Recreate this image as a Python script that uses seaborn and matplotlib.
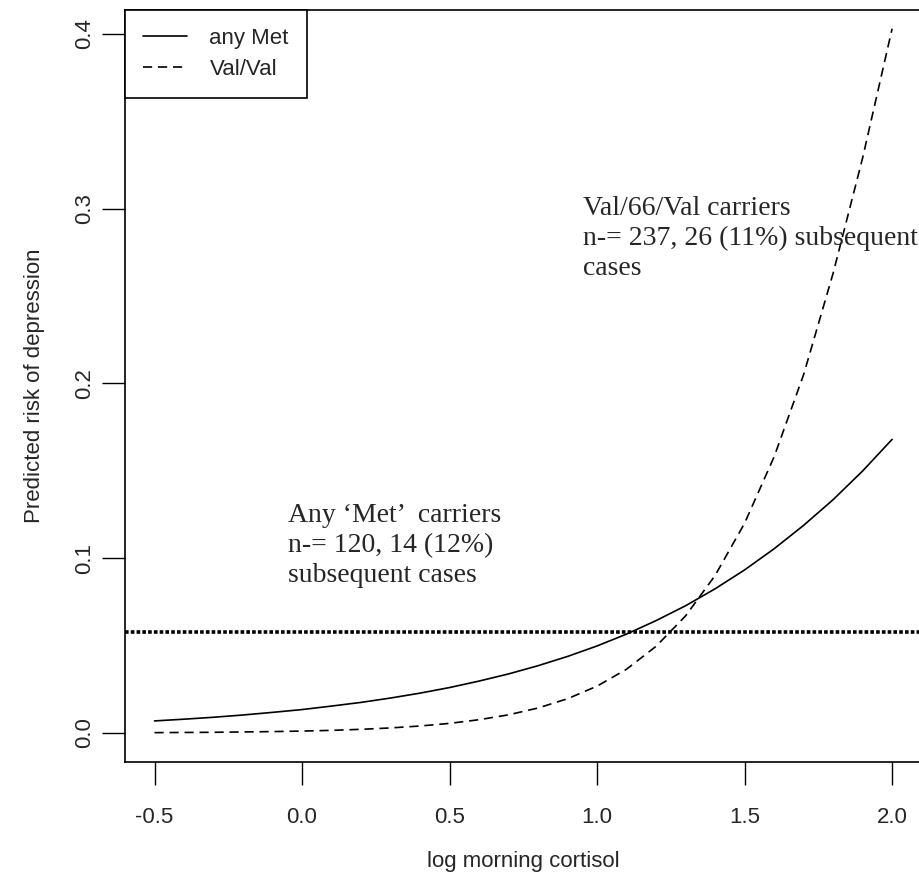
import numpy as np
import pandas as pd
import matplotlib
matplotlib.use("Agg")
import matplotlib.pyplot as plt
import seaborn as sns
from matplotlib.lines import Line2D

# ---- data ----
cortisol = [-0.5, -0.4, -0.3, -0.2, -0.1, 0.0, 0.1, 0.2, 0.3, 0.4, 0.5, 0.6, 0.7,
            0.8, 0.9, 1.0, 1.1, 1.2, 1.3, 1.4, 1.5, 1.6, 1.7, 1.8, 1.9, 2.0]
risk_any_met = [0.0069, 0.0079, 0.0090, 0.0103, 0.0118, 0.0134, 0.0154, 0.0175,
                0.0200, 0.0228, 0.0260, 0.0297, 0.0338, 0.0385, 0.0438, 0.0498,
                0.0566, 0.0643, 0.0728, 0.0825, 0.0933, 0.1054, 0.1188, 0.1335,
                0.1499, 0.1680]
risk_val_val = [0.0002, 0.0003, 0.0004, 0.0006, 0.0008, 0.0011, 0.0015, 0.0021,
                0.0029, 0.0040, 0.0055, 0.0076, 0.0104, 0.0143, 0.0196, 0.0268,
                0.0365, 0.0496, 0.0670, 0.0901, 0.1200, 0.1580, 0.2050, 0.2630,
                0.3290, 0.4030]
group_labels = ["any Met", "Val/Val"]
baseline_risk = 0.0578
x_ticks = [-0.5, 0.0, 0.5, 1.0, 1.5, 2.0]
y_ticks = [0.0, 0.1, 0.2, 0.3, 0.4]
annot_val = "Val/66/Val carriers\nn-= 237, 26 (11%) subsequent\ncases"
annot_met = "Any \u2018Met\u2019  carriers\nn-= 120, 14 (12%)\nsubsequent cases"

df = pd.DataFrame({
    "x": cortisol * 2,
    "y": risk_any_met + risk_val_val,
    "group": [group_labels[0]] * len(cortisol) + [group_labels[1]] * len(cortisol),
})

sns.set_style("ticks")
plt.rcParams["font.family"] = ["Liberation Sans", "DejaVu Sans"]

FS = 16
W, H = 919, 890
fig = plt.figure(figsize=(W / 100, H / 100), dpi=100)
left, right, top, bottom = 125, 921.6, 10, 762
aw, ah = right - left, bottom - top
ax = fig.add_axes([left / W, 1 - bottom / H, aw / W, ah / H])

sns.lineplot(data=df, x="x", y="y", hue="group", style="group",
             palette={"any Met": "black", "Val/Val": "black"},
             dashes={"any Met": "", "Val/Val": (5.5, 3.5)},
             linewidth=1.2, ax=ax, legend=False)

ax.axhline(baseline_risk, color="black", lw=2.6, linestyle=(0, (1, 0.6)))

ax.set_xlim(-0.6, 2.1)
ax.set_ylim(-0.0166, 0.4137)
ax.set_xticks(x_ticks)
ax.set_xticklabels([f"{t:.1f}" for t in x_ticks])
ax.set_yticks(y_ticks)
ax.set_yticklabels([f"{t:.1f}" for t in y_ticks], rotation=90, va="center")
ax.tick_params(direction="out", length=16.5, width=1.0, labelsize=FS, color="black")
ax.tick_params(axis="x", pad=16)
ax.tick_params(axis="y", pad=5)
for s in ax.spines.values():
    s.set_linewidth(1.2)
    s.set_color("black")

ax.set_xlabel("log morning cortisol", fontsize=FS, va="center")
ax.set_ylabel("Predicted risk of depression", fontsize=FS, va="center")
ax.xaxis.set_label_coords(0.5, (bottom - 862) / ah)
ax.yaxis.set_label_coords((35 - left) / aw, 0.5)

# legend
handles = [Line2D([], [], color="black", lw=1.2),
           Line2D([], [], color="black", lw=1.2, dashes=(5.5, 3.5))]
leg = ax.legend(handles, group_labels, loc="upper left", borderaxespad=0,
                fancybox=False, framealpha=1, edgecolor="black", fontsize=FS,
                handlelength=2.0, handletextpad=1.0, borderpad=0.8,
                labelspacing=0.45)
leg.get_frame().set_linewidth(1.2)

serif = ["Liberation Serif", "DejaVu Serif"]
fig.text(583 / W, 1 - 196 / H, annot_val, family=serif, fontsize=20,
         va="top", ha="left", linespacing=1.27)
fig.text(288 / W, 1 - 503 / H, annot_met, family=serif, fontsize=20,
         va="top", ha="left", linespacing=1.27)

fig.savefig("out.png", dpi=100)
